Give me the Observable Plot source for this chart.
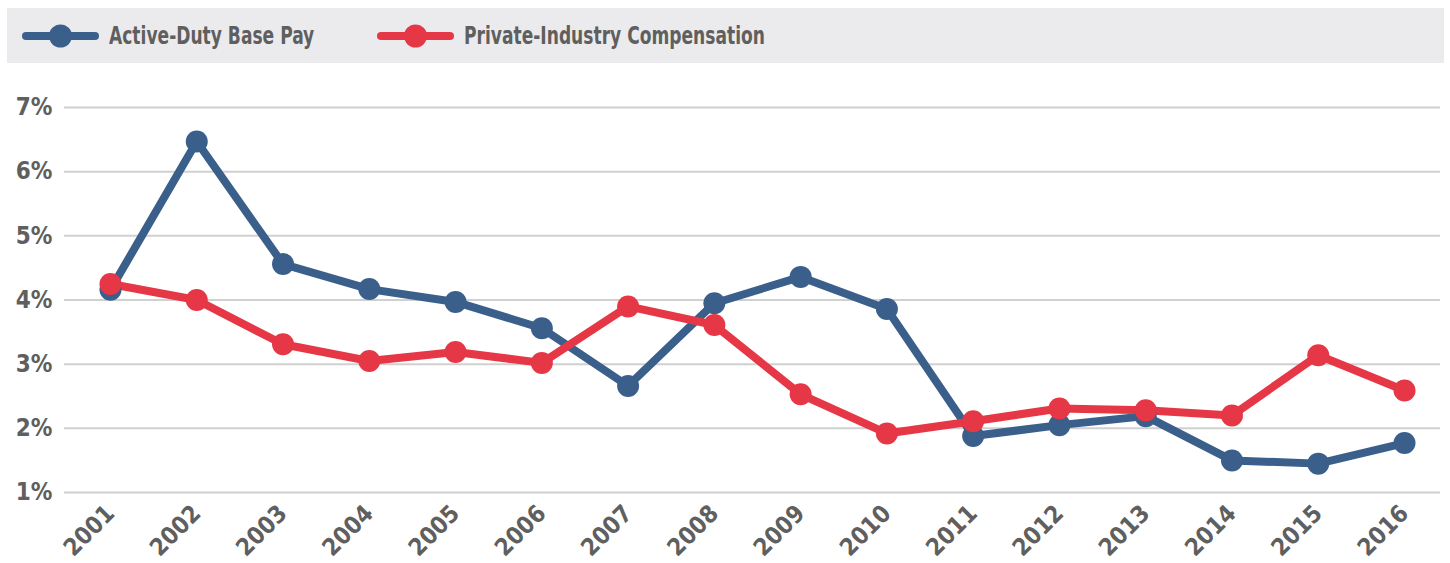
<!DOCTYPE html>
<html>
<head>
<meta charset="utf-8">
<script src="https://cdn.jsdelivr.net/npm/d3@7"></script>
<script src="https://cdn.jsdelivr.net/npm/@observablehq/plot@0.6"></script>
<style>
  body { margin: 0; background: #fff; font-family: "Liberation Sans Narrow", "DejaVu Sans Condensed", sans-serif; }
  #legend { position: relative; margin: 8px 6px 0 7px; height: 55px; background: #ebebed; font-weight: bold; font-size: 25px; color: #5f5f5f; }
  .item { position: absolute; top: 0; height: 55px; display: flex; align-items: center; white-space: nowrap; }
  .item svg { margin-right: 10px; }
  .item span { display: inline-block; transform: scaleX(0.76); transform-origin: left center; }
  #chart svg { display: block; }
</style>
</head>
<body>
<div id="legend"></div>
<div id="chart"></div>
<script>
const years = [2001,2002,2003,2004,2005,2006,2007,2008,2009,2010,2011,2012,2013,2014,2015,2016];
const activeDuty = [4.16,6.47,4.56,4.17,3.97,3.56,2.66,3.95,4.36,3.86,1.88,2.05,2.19,1.50,1.45,1.77];
const privateIndustry = [4.25,4.00,3.31,3.05,3.19,3.02,3.90,3.61,2.53,1.92,2.11,2.31,2.28,2.20,3.14,2.59];
const seriesNames = ["Active-Duty Base Pay", "Private-Industry Compensation"];
const seriesColors = ["#3a5f8b", "#e63746"];
const yTicks = [1,2,3,4,5,6,7];

const data = [];
years.forEach((y, i) => {
  data.push({year: y, value: activeDuty[i], series: seriesNames[0]});
  data.push({year: y, value: privateIndustry[i], series: seriesNames[1]});
});

// legend
const legend = document.getElementById("legend");
const legendLeft = [15, 370];
seriesNames.forEach((name, i) => {
  const div = document.createElement("div");
  div.className = "item";
  div.style.left = legendLeft[i] + "px";
  div.innerHTML = `<svg width="77" height="26"><line x1="4" y1="13" x2="73" y2="13" stroke="${seriesColors[i]}" stroke-width="8" stroke-linecap="round"/><circle cx="38.5" cy="13" r="11.5" fill="${seriesColors[i]}"/></svg><span>${name}</span>`;
  legend.appendChild(div);
});

const chart = Plot.plot({
  width: 1450,
  height: 500,
  marginTop: 44,
  marginBottom: 71,
  marginLeft: 64,
  marginRight: 10,
  style: {fontFamily: '"Liberation Sans Narrow", "DejaVu Sans Condensed", sans-serif', fontSize: "24px", fontWeight: "bold", color: "#5f5f5f", overflow: "visible"},
  x: {domain: [2000.467, 2016.417], ticks: years, tickFormat: d => String(d), tickSize: 0, tickPadding: 17, tickRotate: -45, label: null},
  y: {domain: [1, 7], ticks: yTicks, tickFormat: d => d + "%", tickSize: 0, tickPadding: 12, label: null},
  color: {domain: seriesNames, range: seriesColors},
  marks: [
    Plot.ruleY(yTicks, {stroke: "#d0d0d0", strokeWidth: 2, strokeOpacity: 1}),
    Plot.line(data, {x: "year", y: "value", z: "series", stroke: "series", strokeWidth: 8}),
    Plot.dot(data, {x: "year", y: "value", fill: "series", r: 11, stroke: null})
  ]
});
document.getElementById("chart").appendChild(chart);
</script>
</body>
</html>
